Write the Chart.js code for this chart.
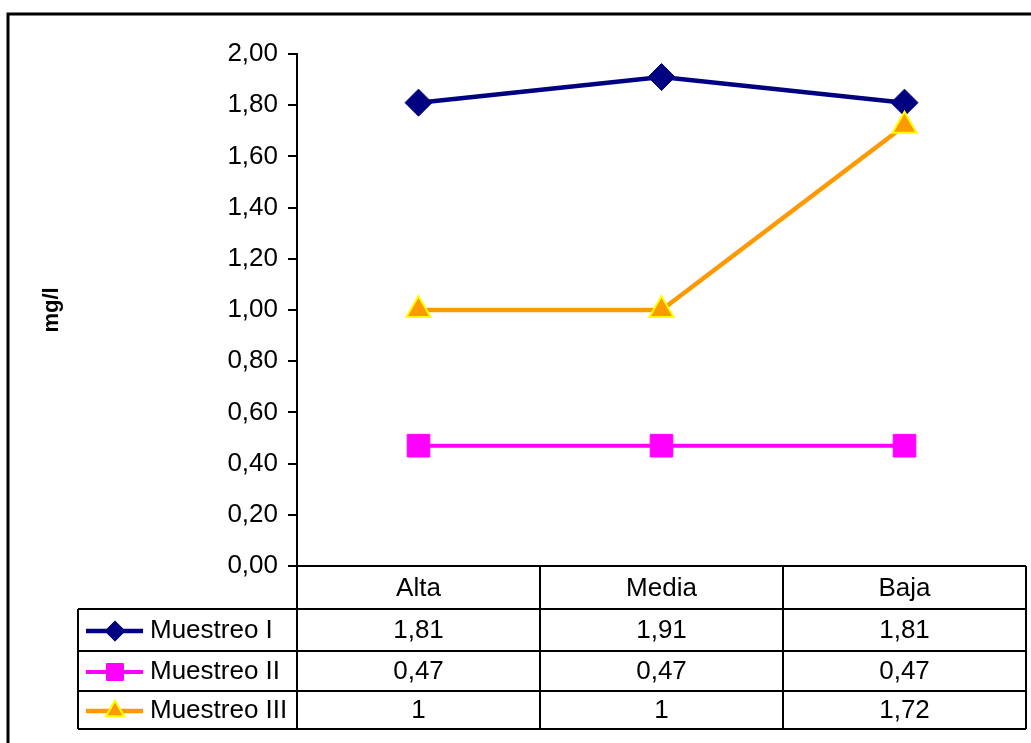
<!DOCTYPE html>
<html>
<head>
<meta charset="utf-8">
<script src="https://cdn.jsdelivr.net/npm/chart.js@4/dist/chart.umd.min.js"></script>
<style>
  html, body { margin: 0; padding: 0; background: #fff; }
  canvas { display: block; }
</style>
</head>
<body>
<canvas id="chart" width="1031" height="743"></canvas>
<script>
// DATA
var categories = ['Alta', 'Media', 'Baja']
var muestreoI = [1.81, 1.91, 1.81]
var muestreoII = [0.47, 0.47, 0.47]
var muestreoIII = [1, 1, 1.72]
var yTicks = [0, 0.2, 0.4, 0.6, 0.8, 1, 1.2, 1.4, 1.6, 1.8, 2]
var yTitle = 'mg/l'

// COLORS
var navy = '#000080'
var pink = '#FF00FF'
var orange = '#FF9900'
var yellow = '#FFFF00'

var font = "'Liberation Sans', Arial, sans-serif"
var fontSize = 26

function comma (v) { return String(v).replace('.', ',') }

// data table under the plot (Excel style), positioned from the x scale
var dataTable = {
  id: 'dataTable',
  beforeDraw: function (chart) {
    var ctx = chart.ctx
    ctx.save()
    ctx.strokeStyle = '#000'
    ctx.lineWidth = 3
    ctx.beginPath()
    ctx.moveTo(8, 760); ctx.lineTo(8, 14); ctx.lineTo(1040, 14)
    ctx.stroke()
    ctx.restore()
  },
  afterDraw: function (chart) {
    var ctx = chart.ctx
    var x = chart.scales.x
    var area = chart.chartArea
    var centers = categories.map(function (c, i) { return x.getPixelForValue(i) })
    var half = (centers[1] - centers[0]) / 2
    var legendLeft = 78
    var headTop = area.bottom
    var rowLines = [headTop + 43, headTop + 85, headTop + 125, headTop + 163]
    var rows = chart.data.datasets
    var bottom = rowLines[rowLines.length - 1]
    var right = centers[2] + half

    ctx.save()
    ctx.strokeStyle = '#000'
    ctx.lineWidth = 2
    ctx.beginPath()
    // horizontal lines
    ctx.moveTo(area.left, headTop); ctx.lineTo(right, headTop)
    rowLines.forEach(function (yy) {
      ctx.moveTo(legendLeft, yy); ctx.lineTo(right, yy)
    })
    // vertical lines
    ctx.moveTo(legendLeft, rowLines[0]); ctx.lineTo(legendLeft, bottom)
    ctx.moveTo(area.left, headTop); ctx.lineTo(area.left, bottom)
    centers.forEach(function (cx) {
      ctx.moveTo(cx + half, headTop); ctx.lineTo(cx + half, bottom)
    })
    ctx.stroke()

    ctx.fillStyle = '#000'
    ctx.font = fontSize + 'px ' + font
    ctx.textAlign = 'center'
    ctx.textBaseline = 'middle'
    categories.forEach(function (c, i) {
      ctx.fillText(c, centers[i], (headTop + rowLines[0]) / 2 + 1)
    })
    rows.forEach(function (ds, r) {
      var cy = (rowLines[r] + rowLines[r + 1]) / 2 + 1
      ds.data.forEach(function (v, i) {
        ctx.fillText(comma(v), centers[i], cy)
      })
      // legend key
      ctx.strokeStyle = ds.borderColor
      ctx.lineWidth = ds.borderWidth
      ctx.beginPath()
      ctx.moveTo(86, cy); ctx.lineTo(143, cy)
      ctx.stroke()
      ctx.fillStyle = ds.pointBackgroundColor
      ctx.strokeStyle = ds.pointBorderColor
      ctx.lineWidth = ds.pointBorderWidth
      Chart.helpers.drawPoint(ctx, {
        pointStyle: ds.pointStyle, radius: ds.pointRadius * 0.75,
        borderWidth: ds.pointBorderWidth, rotation: 0
      }, 115, cy)
      ctx.fillStyle = '#000'
      ctx.textAlign = 'left'
      ctx.fillText(ds.label, 150, cy)
      ctx.textAlign = 'center'
    })
    ctx.restore()
  }
}

new Chart(document.getElementById('chart'), {
  type: 'line',
  data: {
    labels: categories,
    datasets: [
      {
        label: 'Muestreo I', data: muestreoI, order: 2,
        borderColor: navy, backgroundColor: navy, borderWidth: 4.5,
        pointStyle: 'rectRot', pointRadius: 13.5,
        pointBackgroundColor: navy, pointBorderColor: navy, pointBorderWidth: 1
      },
      {
        label: 'Muestreo II', data: muestreoII, order: 3,
        borderColor: pink, backgroundColor: pink, borderWidth: 4,
        pointStyle: 'rect', pointRadius: 16,
        pointBackgroundColor: pink, pointBorderColor: pink, pointBorderWidth: 1
      },
      {
        label: 'Muestreo III', data: muestreoIII, order: 1,
        borderColor: orange, backgroundColor: orange, borderWidth: 4.5,
        pointStyle: 'triangle', pointRadius: 14,
        pointBackgroundColor: orange, pointBorderColor: yellow, pointBorderWidth: 2
      }
    ]
  },
  options: {
    responsive: false,
    animation: false,
    layout: { autoPadding: false, padding: { left: 0, top: 54, right: 5, bottom: 177 } },
    plugins: { legend: { display: false }, tooltip: { enabled: false } },
    elements: { line: { tension: 0 } },
    scales: {
      x: { type: 'category', offset: true, display: false, ticks: { display: false } },
      y: {
        min: yTicks[0], max: yTicks[yTicks.length - 1],
        afterFit: function (scale) { scale.width = 297 },
        afterBuildTicks: function (scale) {
          scale.ticks = yTicks.map(function (v) { return { value: v } })
        },
        ticks: {
          color: '#000', padding: 10,
          font: { family: font, size: fontSize },
          callback: function (v) { return v.toFixed(2).replace('.', ',') }
        },
        grid: { drawOnChartArea: false, drawTicks: true, tickLength: 9, color: '#000', lineWidth: 2 },
        border: { display: true, color: '#000', width: 2 },
        title: {
          display: true, text: yTitle, color: '#000',
          font: { family: font, size: 22, weight: 'bold' },
          padding: { top: 39, bottom: 0 }
        }
      }
    }
  },
  plugins: [dataTable]
})
</script>
</body>
</html>
